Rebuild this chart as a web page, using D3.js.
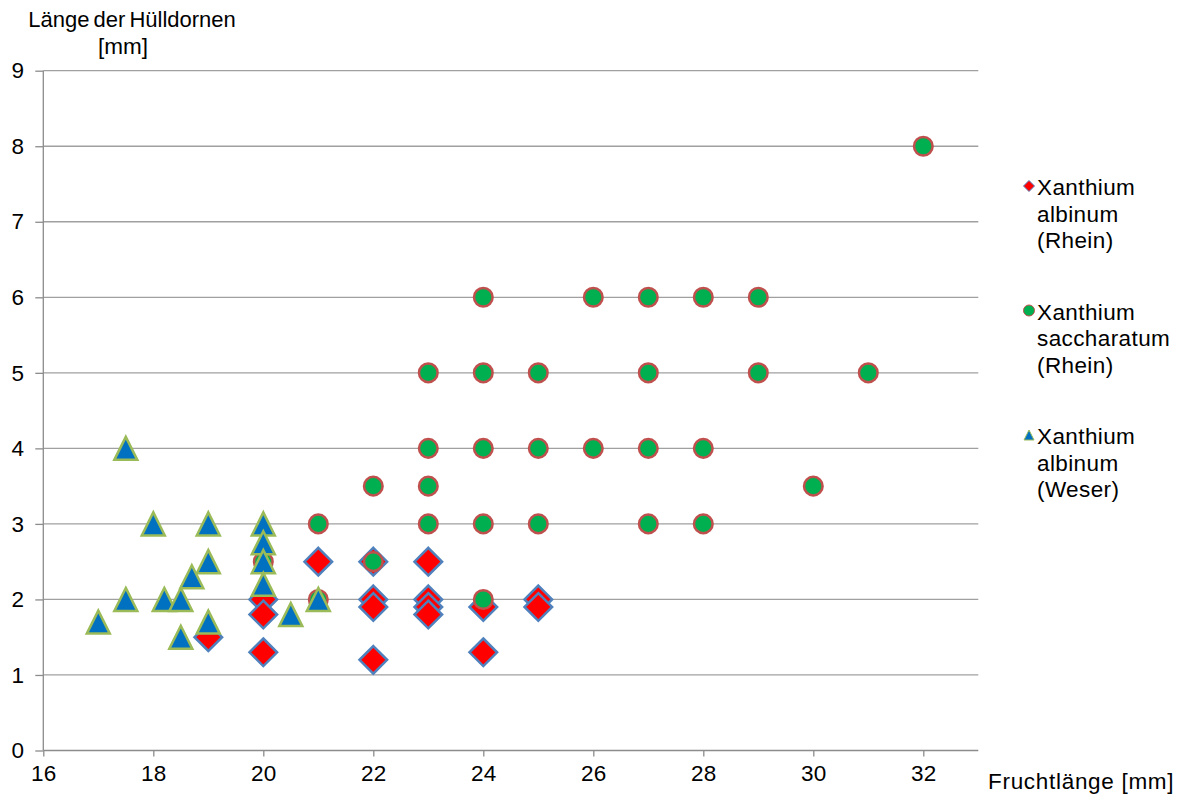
<!DOCTYPE html>
<html>
<head>
<meta charset="utf-8">
<script src="https://cdn.jsdelivr.net/npm/d3@7"></script>
<style>
	body { margin: 0; background: #fff; }
	text { font-family: "Liberation Sans", Arial, sans-serif; fill: #000; }
</style>
</head>
<body>
<svg id="chart" width="1184" height="796"></svg>
<script>
// Xanthium albinum (Rhein) - red diamonds
var albinumRheinX = [19, 20, 20, 20, 21, 22, 22, 22, 22, 23, 23, 23, 23, 24, 24, 25, 25];
var albinumRheinY = [1.5, 2.0, 1.8, 1.3, 2.5, 2.5, 2.0, 1.9, 1.2, 2.5, 2.0, 1.9, 1.8, 1.9, 1.3, 2.0, 1.9];

// Xanthium saccharatum (Rhein) - green circles
var saccharatumX = [32, 24, 26, 27, 28, 29, 23, 24, 25, 27, 29, 31, 23, 24, 25, 26, 27, 28, 22, 23, 30, 21, 23, 24, 25, 27, 28, 22, 20, 21, 24];
var saccharatumY = [8, 6, 6, 6, 6, 6, 5, 5, 5, 5, 5, 5, 4, 4, 4, 4, 4, 4, 3.5, 3.5, 3.5, 3, 3, 3, 3, 3, 3, 2.5, 2.5, 2, 2];

// Xanthium albinum (Weser) - blue triangles
var albinumWeserX = [17.5, 18, 19, 20, 20, 20, 19, 18.7, 20, 17.5, 18.2, 18.5, 21, 17, 19, 18.5, 20.5];
var albinumWeserY = [4, 3, 3, 3, 2.75, 2.5, 2.5, 2.3, 2.2, 2, 2, 2, 2, 1.7, 1.7, 1.5, 1.8];

var xTicks = [16, 18, 20, 22, 24, 26, 28, 30, 32];
var yTicks = [0, 1, 2, 3, 4, 5, 6, 7, 8, 9];
var seriesNames = [
	["Xanthium", "albinum", "(Rhein)"],
	["Xanthium", "saccharatum", "(Rhein)"],
	["Xanthium", "albinum", "(Weser)"]
];

var FONT = 22.5;
var svg = d3.select("#chart");
var x = d3.scaleLinear().domain([16, 33]).range([43.3, 978.3]);
var y = d3.scaleLinear().domain([0, 9]).range([750.5, 70.7]);

/*
Marker shapes (drawn around 0,0)
*/
function diamondPath(r) {
	return "M0," + (-r) + "L" + r + ",0L0," + r + "L" + (-r) + ",0Z";
}
function trianglePath(s) {
	return "M0," + (-s) + "L" + s + "," + s + "L" + (-s) + "," + s + "Z";
}
var markers = [
	{ kind: "diamond", fill: "#ff0000", stroke: "#4f81bd", sw: 2.5 },
	{ kind: "circle", fill: "#00b050", stroke: "#c0504d", sw: 2.5 },
	{ kind: "triangle", fill: "#0070c0", stroke: "#9bbb59", sw: 2.5 }
];

/*
Grid and axes
*/
svg.append("g").selectAll("line").data(yTicks.slice(1)).enter().append("line")
	.attr("x1", x(16)).attr("x2", x(33))
	.attr("y1", function(d) { return y(d); }).attr("y2", function(d) { return y(d); })
	.attr("stroke", "#a0a0a0").attr("stroke-width", 1.3);

var yAxis = d3.axisLeft(y).tickValues(yTicks).tickSize(8).tickPadding(11).tickFormat(d3.format("d"));
var gy = svg.append("g").attr("transform", "translate(" + x(16) + ",0)").call(yAxis);
var xAxis = d3.axisBottom(x).tickValues(xTicks).tickSize(6).tickPadding(9).tickFormat(d3.format("d"));
var gx = svg.append("g").attr("transform", "translate(0," + y(0) + ")").call(xAxis);

[gx, gy].forEach(function(g) {
	g.select(".domain").attr("stroke", "#8c8c8c").attr("stroke-width", 1.3);
	g.selectAll(".tick line").attr("stroke", "#8c8c8c").attr("stroke-width", 1.3);
	g.selectAll(".tick text").attr("font-size", FONT).attr("letter-spacing", 0.4)
		.attr("font-family", "Liberation Sans, Arial, sans-serif").attr("fill", "#000");
});
gx.select(".domain").attr("d", "M" + x(16) + ",0H" + x(33));
gy.select(".domain").attr("d", "M0," + y(0) + "V" + y(9));

// axis titles
svg.append("text").attr("x", 132).attr("y", 27).attr("text-anchor", "middle").attr("font-size", 22)
	.attr("word-spacing", -2).text("Länge der Hülldornen");
svg.append("text").attr("x", 123).attr("y", 54).attr("text-anchor", "middle").attr("font-size", FONT).text("[mm]");
svg.append("text").attr("x", 988).attr("y", 789).attr("font-size", FONT)
	.attr("letter-spacing", 0.7).text("Fruchtlänge [mm]");

/*
Points
*/
function drawSeries(xs, ys, m) {
	var pts = xs.map(function(v, i) { return [v, ys[i]]; });
	var g = svg.append("g");
	if (m.kind === "circle") {
		g.selectAll("circle").data(pts).enter().append("circle")
			.attr("cx", function(d) { return x(d[0]); })
			.attr("cy", function(d) { return y(d[1]); })
			.attr("r", 9.3)
			.attr("fill", m.fill).attr("stroke", m.stroke).attr("stroke-width", m.sw);
	} else {
		var p = m.kind === "diamond" ? diamondPath(13.8) : trianglePath(11.5);
		g.selectAll("path").data(pts).enter().append("path")
			.attr("transform", function(d) { return "translate(" + x(d[0]) + "," + y(d[1]) + ")"; })
			.attr("d", p)
			.attr("fill", m.fill).attr("stroke", m.stroke).attr("stroke-width", m.sw)
			.attr("stroke-linejoin", "miter");
	}
}
drawSeries(albinumRheinX, albinumRheinY, markers[0]);
drawSeries(saccharatumX, saccharatumY, markers[1]);
drawSeries(albinumWeserX, albinumWeserY, markers[2]);

/*
Legend
*/
var legend = svg.append("g");
seriesNames.forEach(function(lines, i) {
	var top = 187 + i * 124.5;
	var m = markers[i];
	if (m.kind === "circle") {
		legend.append("circle").attr("cx", 1029).attr("cy", top - 1).attr("r", 5.5)
			.attr("fill", m.fill).attr("stroke", m.stroke).attr("stroke-width", 1);
	} else {
		legend.append("path")
			.attr("transform", "translate(1029," + (top - 1) + ")")
			.attr("d", m.kind === "diamond" ? diamondPath(5.5) : trianglePath(5))
			.attr("fill", m.fill).attr("stroke", m.stroke).attr("stroke-width", 1);
	}
	lines.forEach(function(t, j) {
		legend.append("text").attr("x", 1037).attr("y", top + 8 + j * 26.5)
			.attr("font-size", FONT).attr("letter-spacing", 0.4).text(t);
	});
});
</script>
</body>
</html>
